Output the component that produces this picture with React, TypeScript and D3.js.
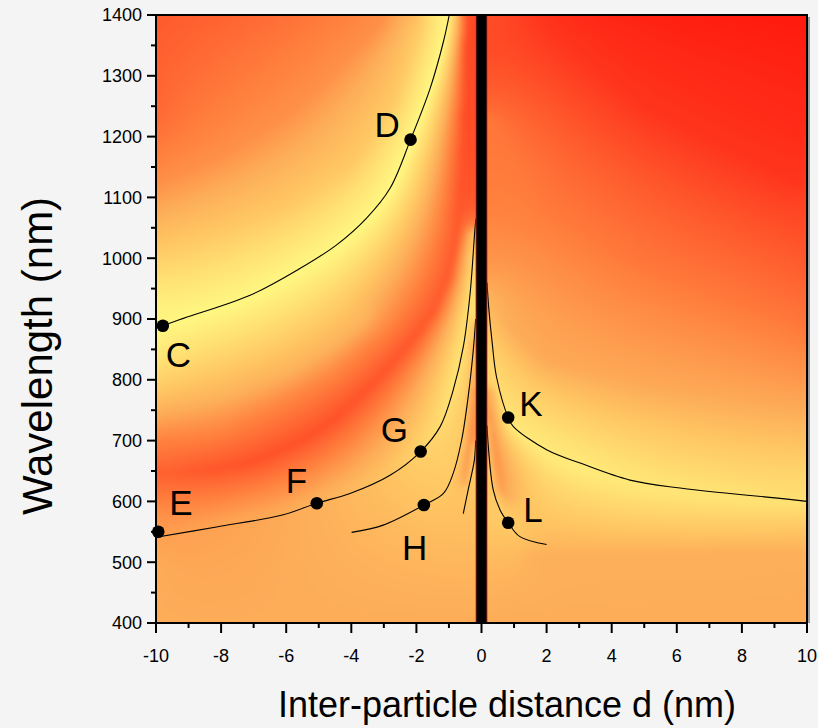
import React, { useMemo } from "react";
import * as d3 from "d3";

const WIDTH = 818;
const HEIGHT = 728;
const PLOT = { left: 156, right: 807, top: 15, bottom: 623 };

const X_DOMAIN: [number, number] = [-10, 10];
const Y_DOMAIN: [number, number] = [400, 1400];
const X_MAJOR = [-10, -8, -6, -4, -2, 0, 2, 4, 6, 8, 10];
const X_MINOR = [-9, -7, -5, -3, -1, 1, 3, 5, 7, 9];
const Y_MAJOR = [400, 500, 600, 700, 800, 900, 1000, 1100, 1200, 1300, 1400];
const Y_MINOR = [450, 550, 650, 750, 850, 950, 1050, 1150, 1250, 1350];

const GAP_HALF = 0.17;

// mode curves: [d (nm), wavelength (nm)]
const CURVE_CD: [number, number][] = [
  [-9.79, 889], [-9.16, 901], [-7.11, 939], [-5.58, 983], [-4.45, 1022], [-3.53, 1066],
  [-2.81, 1115], [-2.18, 1195], [-1.58, 1279], [-1.17, 1356], [-0.99, 1400],
];
const CURVE_EFG: [number, number][] = [
  [-10, 541], [-8.14, 558], [-6.09, 578], [-5.06, 597], [-4.04, 613], [-2.81, 643],
  [-1.87, 682], [-1.27, 723], [-0.87, 783], [-0.56, 854], [-0.35, 942], [-0.2, 1049], [-0.17, 1065],
];
const CURVE_H: [number, number][] = [
  [-3.99, 549], [-3.02, 561], [-1.77, 594], [-1.17, 613], [-0.87, 646], [-0.61, 701],
  [-0.41, 772], [-0.25, 850], [-0.18, 900],
];
const CURVE_H2: [number, number][] = [
  [-0.56, 580], [-0.41, 619], [-0.22, 668], [-0.18, 700],
];
const CURVE_K: [number, number][] = [
  [0.17, 960], [0.22, 920], [0.33, 860], [0.46, 805], [0.82, 738], [0.98, 723], [2.0, 685],
  [3.03, 663], [4.56, 635], [6.1, 622], [7.63, 613], [9.17, 605], [10, 600],
];
const CURVE_L: [number, number][] = [
  [0.17, 725], [0.21, 690], [0.36, 619], [0.57, 586], [0.82, 565], [1.18, 542], [2.0, 529],
];
const CURVES = [CURVE_CD, CURVE_EFG, CURVE_H, CURVE_H2, CURVE_K, CURVE_L];

// marked points
const POINT_LABELS = ["C", "D", "E", "F", "G", "H", "K", "L"];
const POINT_D = [-9.79, -2.18, -9.93, -5.06, -1.87, -1.77, 0.82, 0.82];
const POINT_WL = [889, 1195, 550, 597, 682, 594, 738, 565];
// label placement relative to the point (px)
const LABEL_DX = [3, -36, 11, -31, -40, -22, 11, 15];
const LABEL_DY = [41, -3, -17, -10, -10, 55, -1, -1];

// intensity map: lines of [d, wavelength, level]
const FIELD_LEFT: [number, number, number][][] = [
  // top edge
  [[-10, 1400, 0.25], [-8, 1400, 0.28], [-6, 1400, 0.33], [-4, 1400, 0.4], [-3, 1400, 0.45], [-2, 1400, 0.63],
   [-1.5, 1400, 0.85], [-1.05, 1400, 1], [-0.8, 1400, 0.78], [-0.6, 1400, 0.4], [-0.45, 1400, 0.2], [-0.18, 1400, 0.18]],
  // left edge
  [[-10, 400, 0.56], [-10, 500, 0.56], [-10, 541, 0.52], [-10, 580, 0.46], [-10, 624, 0.33], [-10, 650, 0.28],
   [-10, 700, 0.4], [-10, 755, 0.6], [-10, 800, 0.76], [-10, 850, 0.92], [-10, 885, 1], [-10, 930, 0.95],
   [-10, 1016, 0.7], [-10, 1125, 0.45], [-10, 1236, 0.3], [-10, 1400, 0.25]],
  // bottom edge
  [[-10, 400, 0.56], [-0.18, 400, 0.56]],
  // E-F-G band
  [[-10, 548, 0.5], [-8.14, 565, 0.52], [-6.09, 585, 0.55], [-5.06, 604, 0.58], [-4.04, 620, 0.62],
   [-2.81, 650, 0.68], [-1.87, 690, 0.76], [-1.27, 730, 0.82], [-0.87, 790, 0.86], [-0.56, 860, 0.86],
   [-0.35, 945, 0.82], [-0.22, 1040, 0.72]],
  // red trough
  [[-10, 645, 0.28], [-8.5, 650, 0.24], [-7, 665, 0.22], [-5.5, 700, 0.22], [-4.5, 735, 0.22],
   [-3.2, 800, 0.23], [-2.2, 860, 0.24], [-1.5, 910, 0.25], [-1.0, 970, 0.25], [-0.75, 1040, 0.24],
   [-0.6, 1150, 0.22], [-0.5, 1250, 0.2], [-0.43, 1390, 0.19]],
  // levels between trough and C-D band
  [[-9.9, 700, 0.4], [-8, 712, 0.4], [-6, 760, 0.4], [-4.5, 805, 0.4], [-3.3, 862, 0.4]],
  [[-9.9, 755, 0.6], [-8, 775, 0.6], [-6, 815, 0.6], [-4.5, 862, 0.6], [-3.5, 905, 0.6]],
  // C-D band
  [[-9.9, 884, 0.98], [-9.16, 898, 1], [-7.11, 935, 1], [-5.58, 978, 1], [-4.45, 1016, 1],
   [-3.53, 1060, 1], [-2.81, 1108, 1], [-2.18, 1188, 1], [-1.58, 1275, 1], [-1.17, 1352, 1], [-1.06, 1390, 1]],
  // upper-left levels
  [[-9.9, 1016, 0.7], [-8, 1045, 0.7], [-6, 1085, 0.7], [-4, 1155, 0.7], [-2.7, 1260, 0.7], [-1.9, 1390, 0.7]],
  [[-9.9, 1125, 0.45], [-8, 1170, 0.45], [-6, 1235, 0.45], [-4.5, 1310, 0.45], [-3.05, 1390, 0.45]],
  // H band
  [[-3.99, 549, 0.6], [-3.02, 561, 0.62], [-1.77, 594, 0.68], [-1.17, 613, 0.7], [-0.87, 646, 0.72],
   [-0.61, 701, 0.72], [-0.41, 772, 0.7], [-0.25, 850, 0.68], [-0.19, 900, 0.62]],
  // orange streak by the gap
  [[-0.5, 630, 0.52], [-0.38, 680, 0.46], [-0.3, 740, 0.46], [-0.25, 800, 0.5], [-0.21, 860, 0.55]],
  // short band
  [[-0.56, 580, 0.66], [-0.41, 619, 0.7], [-0.22, 668, 0.74], [-0.19, 700, 0.74]],
];
const FIELD_RIGHT: [number, number, number][][] = [
  // top edge
  [[0.18, 1400, 0.22], [1, 1400, 0.17], [2, 1400, 0.11], [4, 1400, 0.05], [6, 1400, 0.02], [10, 1400, 0]],
  // right edge
  [[10, 400, 0.56], [10, 500, 0.57], [10, 560, 0.68], [10, 594, 0.85], [10, 640, 0.8], [10, 700, 0.66],
   [10, 800, 0.48], [10, 900, 0.34], [10, 1000, 0.24], [10, 1200, 0.08], [10, 1400, 0]],
  // bottom edge
  [[0.18, 400, 0.56], [10, 400, 0.56]],
  [[1.5, 510, 0.58], [9.9, 520, 0.58]],
  // L band
  [[0.18, 725, 0.62], [0.21, 690, 0.66], [0.36, 619, 0.7], [0.57, 586, 0.72], [0.82, 565, 0.72],
   [1.18, 542, 0.68], [2.0, 529, 0.62]],
  // orange streak by the gap
  [[0.25, 780, 0.55], [0.32, 720, 0.48], [0.45, 660, 0.46], [0.6, 620, 0.5], [0.9, 600, 0.6]],
  // K band
  [[0.18, 955, 0.55], [0.22, 918, 0.62], [0.33, 858, 0.72], [0.46, 803, 0.8], [0.82, 735, 0.87],
   [0.98, 718, 0.9], [2.0, 678, 0.92], [3.03, 655, 0.92], [4.56, 628, 0.9], [6.1, 614, 0.88],
   [7.63, 606, 0.87], [9.17, 598, 0.85], [9.9, 595, 0.85]],
  // upper-right levels
  [[0.5, 920, 0.58], [1, 880, 0.56], [2, 830, 0.55], [5, 790, 0.55], [9.9, 752, 0.55]],
  [[0.25, 1230, 0.36], [1, 1150, 0.37], [2, 1080, 0.37], [5, 1000, 0.35], [9.9, 920, 0.33]],
  [[2, 1370, 0.13], [5, 1250, 0.12], [9.9, 1120, 0.12]],
];

const COLOR_STOPS = [0, 0.12, 0.25, 0.4, 0.56, 0.7, 0.85, 1];
const COLOR_VALUES = ["#ff1a0e", "#ff341c", "#ff5a2d", "#ff823e", "#fdac58", "#ffc864", "#ffe173", "#fff782"];

const FONT = "'Liberation Sans', Arial, Helvetica, sans-serif";

type Grid = { s: number; gw: number; gh: number; val: Float32Array; dom: Int8Array; fixed: Uint8Array };

export default function App() {
  const xScale = useMemo(() => d3.scaleLinear().domain(X_DOMAIN).range([PLOT.left, PLOT.right]), []);
  const yScale = useMemo(() => d3.scaleLinear().domain(Y_DOMAIN).range([PLOT.bottom, PLOT.top]), []);

  const heatmap = useMemo(() => {
    const w = PLOT.right - PLOT.left;
    const h = PLOT.bottom - PLOT.top;
    const x0 = xScale(-GAP_HALF) - PLOT.left;
    const x1 = xScale(GAP_HALF) - PLOT.left;
    const sideOf = (px: number) => (px < x0 ? -1 : px > x1 ? 1 : 0);
    const toPx = (lines: [number, number, number][][]) =>
      lines.map((l) => l.map(([x, wl, v]) => [xScale(x) - PLOT.left, yScale(wl) - PLOT.top, v]));
    const sets = [
      { side: -1, lines: toPx(FIELD_LEFT) },
      { side: 1, lines: toPx(FIELD_RIGHT) },
    ];

    const sample = (g: Grid, px: number, py: number, side: number) => {
      const gx = px / g.s, gy = py / g.s;
      const i0 = Math.floor(gx), j0 = Math.floor(gy);
      const fx = gx - i0, fy = gy - j0;
      let sum = 0, ws = 0;
      for (let dj = 0; dj <= 1; dj++) {
        for (let di = 0; di <= 1; di++) {
          const i = i0 + di, j = j0 + dj;
          if (i < 0 || j < 0 || i >= g.gw || j >= g.gh) continue;
          const idx = j * g.gw + i;
          if (g.dom[idx] !== side) continue;
          const wt = (di ? fx : 1 - fx) * (dj ? fy : 1 - fy) + 1e-6;
          sum += wt * g.val[idx];
          ws += wt;
        }
      }
      return ws > 0 ? sum / ws : 0.5;
    };

    const makeGrid = (s: number, prev?: Grid): Grid => {
      const gw = Math.ceil(w / s) + 1, gh = Math.ceil(h / s) + 1;
      const n = gw * gh;
      const val = new Float32Array(n);
      const dom = new Int8Array(n);
      const fixed = new Uint8Array(n);
      for (let j = 0; j < gh; j++) for (let i = 0; i < gw; i++) dom[j * gw + i] = sideOf(i * s);
      for (let j = 0; j < gh; j++) {
        for (let i = 0; i < gw; i++) {
          const idx = j * gw + i;
          val[idx] = prev && dom[idx] !== 0 ? sample(prev, i * s, j * s, dom[idx]) : 0.5;
        }
      }
      for (const set of sets) {
        for (const pts of set.lines) {
          for (let k = 0; k < pts.length - 1; k++) {
            const a = pts[k], b = pts[k + 1];
            const len = Math.hypot(b[0] - a[0], b[1] - a[1]);
            const steps = Math.max(1, Math.ceil(len / (s * 0.4)));
            for (let q = 0; q <= steps; q++) {
              const t = q / steps;
              const px = a[0] + t * (b[0] - a[0]);
              const py = a[1] + t * (b[1] - a[1]);
              const i = Math.round(px / s), j = Math.round(py / s);
              if (i < 0 || j < 0 || i >= gw || j >= gh) continue;
              const idx = j * gw + i;
              if (dom[idx] !== set.side) continue;
              val[idx] = a[2] + t * (b[2] - a[2]);
              fixed[idx] = 1;
            }
          }
        }
      }
      return { s, gw, gh, val, dom, fixed };
    };

    const relax = (g: Grid, iters: number, omega: number) => {
      const { gw, gh, val, dom, fixed } = g;
      for (let it = 0; it < iters; it++) {
        for (let j = 0; j < gh; j++) {
          for (let i = 0; i < gw; i++) {
            const idx = j * gw + i;
            const d = dom[idx];
            if (d === 0 || fixed[idx]) continue;
            let sum = 0, cnt = 0;
            if (i > 0 && dom[idx - 1] === d) { sum += val[idx - 1]; cnt++; }
            if (i < gw - 1 && dom[idx + 1] === d) { sum += val[idx + 1]; cnt++; }
            if (j > 0 && dom[idx - gw] === d) { sum += val[idx - gw]; cnt++; }
            if (j < gh - 1 && dom[idx + gw] === d) { sum += val[idx + gw]; cnt++; }
            if (cnt) val[idx] += omega * (sum / cnt - val[idx]);
          }
        }
      }
    };

    const smooth = (g: Grid, passes: number) => {
      const { gw, gh, dom } = g;
      for (let p = 0; p < passes; p++) {
        const src = g.val;
        const out = new Float32Array(src);
        for (let j = 0; j < gh; j++) {
          for (let i = 0; i < gw; i++) {
            const idx = j * gw + i;
            const d = dom[idx];
            if (d === 0) continue;
            let sum = 0, cnt = 0;
            for (let dj = -1; dj <= 1; dj++) {
              for (let di = -1; di <= 1; di++) {
                const ii = i + di, jj = j + dj;
                if (ii < 0 || jj < 0 || ii >= gw || jj >= gh) continue;
                const k = jj * gw + ii;
                if (dom[k] !== d) continue;
                sum += src[k];
                cnt++;
              }
            }
            out[idx] = sum / cnt;
          }
        }
        g.val = out;
      }
    };

    const g8 = makeGrid(8);
    relax(g8, 900, 1.85);
    const g4 = makeGrid(4, g8);
    relax(g4, 450, 1.9);
    const g2 = makeGrid(2, g4);
    relax(g2, 350, 1.93);
    smooth(g2, 2);

    const canvas = document.createElement("canvas");
    canvas.width = w;
    canvas.height = h;
    const ctx = canvas.getContext("2d");
    if (!ctx) return "";
    const img = ctx.createImageData(w, h);
    const color = d3.scaleLinear<string>().domain(COLOR_STOPS).range(COLOR_VALUES)
      .interpolate(d3.interpolateRgb).clamp(true);
    const lut = new Uint8ClampedArray(512 * 3);
    for (let i = 0; i < 512; i++) {
      const c = d3.rgb(color(i / 511));
      lut[i * 3] = c.r; lut[i * 3 + 1] = c.g; lut[i * 3 + 2] = c.b;
    }
    const data = img.data;
    for (let j = 0; j < h; j++) {
      const py = j + 0.5;
      for (let i = 0; i < w; i++) {
        const px = i + 0.5;
        const side = sideOf(px);
        const v = side === 0 ? 0 : sample(g2, px, py, side);
        const idx = Math.max(0, Math.min(511, Math.round(v * 511)));
        const o = (j * w + i) * 4;
        data[o] = lut[idx * 3];
        data[o + 1] = lut[idx * 3 + 1];
        data[o + 2] = lut[idx * 3 + 2];
        data[o + 3] = 255;
      }
    }
    ctx.putImageData(img, 0, 0);
    return canvas.toDataURL();
  }, [xScale, yScale]);

  const line = d3.line<[number, number]>()
    .x((d) => xScale(d[0]))
    .y((d) => yScale(d[1]))
    .curve(d3.curveCatmullRom.alpha(0.5));

  const pw = PLOT.right - PLOT.left;
  const ph = PLOT.bottom - PLOT.top;

  return (
    <svg width={WIDTH} height={HEIGHT} style={{ position: "absolute", left: 0, top: 0, display: "block" }}
      xmlns="http://www.w3.org/2000/svg">
      <defs>
        <clipPath id="plotClip">
          <rect x={PLOT.left} y={PLOT.top} width={pw} height={ph} />
        </clipPath>
      </defs>
      <rect x={0} y={0} width={WIDTH} height={HEIGHT} fill="#f4f4f4" />
      {heatmap && (
        <image href={heatmap} x={PLOT.left} y={PLOT.top} width={pw} height={ph} preserveAspectRatio="none" />
      )}
      <g clipPath="url(#plotClip)">
        {CURVES.map((c, i) => (
          <path key={i} d={line(c) || ""} fill="none" stroke="#000" strokeWidth={1.1} />
        ))}
        <rect x={xScale(-GAP_HALF)} y={PLOT.top} width={xScale(GAP_HALF) - xScale(-GAP_HALF)} height={ph} fill="#000" />
        <line x1={xScale(-GAP_HALF)} x2={xScale(-GAP_HALF)} y1={PLOT.top} y2={PLOT.bottom} stroke="#e8301a" strokeWidth={0.8} />
        <line x1={xScale(GAP_HALF)} x2={xScale(GAP_HALF)} y1={PLOT.top} y2={PLOT.bottom} stroke="#e8301a" strokeWidth={0.8} />
      </g>
      {POINT_LABELS.map((lab, i) => {
        const cx = xScale(POINT_D[i]);
        const cy = yScale(POINT_WL[i]);
        return (
          <g key={lab}>
            <circle cx={cx} cy={cy} r={6.3} fill="#000" />
            <text x={cx + LABEL_DX[i]} y={cy + LABEL_DY[i]} fontFamily={FONT} fontSize={35} fill="#000">{lab}</text>
          </g>
        );
      })}
      <line x1={PLOT.right + 2} x2={PLOT.right + 2} y1={PLOT.top + 2} y2={PLOT.bottom} stroke="#9a9a9a" strokeWidth={2} />
      <rect x={PLOT.left} y={PLOT.top} width={pw} height={ph} fill="none" stroke="#000" strokeWidth={2} />
      {Y_MAJOR.map((v) => (
        <g key={"ym" + v}>
          <line x1={PLOT.left - 9} x2={PLOT.left} y1={yScale(v)} y2={yScale(v)} stroke="#000" strokeWidth={2} />
          <text x={PLOT.left - 14} y={yScale(v)} dy="0.36em" textAnchor="end" fontFamily={FONT} fontSize={18} fill="#000">{v}</text>
        </g>
      ))}
      {Y_MINOR.map((v) => (
        <line key={"yn" + v} x1={PLOT.left - 5} x2={PLOT.left} y1={yScale(v)} y2={yScale(v)} stroke="#000" strokeWidth={2} />
      ))}
      {X_MAJOR.map((v) => (
        <g key={"xm" + v}>
          <line x1={xScale(v)} x2={xScale(v)} y1={PLOT.bottom} y2={PLOT.bottom + 10} stroke="#000" strokeWidth={2} />
          <text x={xScale(v)} y={662} textAnchor="middle" fontFamily={FONT} fontSize={18} fill="#000">{v}</text>
        </g>
      ))}
      {X_MINOR.map((v) => (
        <line key={"xn" + v} x1={xScale(v)} x2={xScale(v)} y1={PLOT.bottom} y2={PLOT.bottom + 5} stroke="#000" strokeWidth={2} />
      ))}
      <text transform="translate(52,356) rotate(-90)" textAnchor="middle" fontFamily={FONT} fontSize={42} fill="#000">
        Wavelength (nm)
      </text>
      <text x={507} y={717} textAnchor="middle" fontFamily={FONT} fontSize={36} fill="#000">
        Inter-particle distance d (nm)
      </text>
    </svg>
  );
}
